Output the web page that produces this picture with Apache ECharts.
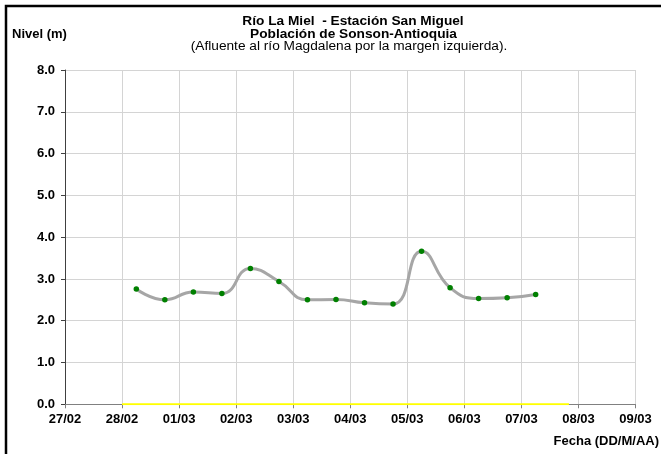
<!DOCTYPE html>
<html>
<head>
<meta charset="utf-8">
<script src="https://cdn.jsdelivr.net/npm/echarts@6/dist/echarts.min.js"></script>
<style>
html,body{margin:0;padding:0;background:#fff;}
#chart{width:661px;height:454px;}
</style>
</head>
<body>
<div id="chart"></div>
<script>
// ---- data ----
var titleLines = ['Río La Miel  - Estación San Miguel', 'Población de Sonson-Antioquia', '(Afluente al río Magdalena por la margen izquierda).'];
var yAxisName = 'Nivel (m)';
var xAxisName = 'Fecha (DD/M/AA)';
var axisStart = '2011-02-27T00:00';
var xTickLabels = ['27/02','28/02','01/03','02/03','03/03','04/03','05/03','06/03','07/03','08/03','09/03'];
var yTickMin = 0, yTickMax = 8, yTickStep = 1;
var dates = ['2011-02-28T06:00','2011-02-28T18:00','2011-03-01T06:00','2011-03-01T18:00','2011-03-02T06:00','2011-03-02T18:00',
             '2011-03-03T06:00','2011-03-03T18:00','2011-03-04T06:00','2011-03-04T18:00','2011-03-05T06:00','2011-03-05T18:00',
             '2011-03-06T06:00','2011-03-06T18:00','2011-03-07T06:00'];
var nivel = [2.76, 2.50, 2.69, 2.65, 3.25, 2.94, 2.50, 2.51, 2.43, 2.40, 3.66, 2.79, 2.53, 2.55, 2.63];
var refDates = ['2011-02-28T00:00', '2011-03-07T20:00'];
var refValues = [0, 0];

// ---- build ----
function dayOffset(s){ return (Date.parse(s + 'Z') - Date.parse(axisStart + 'Z')) / 86400000; }
var lineData = dates.map(function(d,i){ return [dayOffset(d), nivel[i]]; });
var refData = refDates.map(function(d,i){ return [dayOffset(d), refValues[i]]; });
var FONT = 'Liberation Sans';
var FS = 13;

var chart = echarts.init(document.getElementById('chart'), null, {renderer:'canvas'});
chart.setOption({
  backgroundColor: '#ffffff',
  animation: false,
  textStyle: {fontFamily: FONT},
  grid: {left: 65, right: 25.5, top: 70, bottom: 49.7, containLabel: false},
  graphic: [
    {type:'rect', shape:{x:6, y:6, width:700, height:500}, style:{fill:'none', stroke:'#000', lineWidth:2.5}, z:100},
    {type:'text', style:{text:titleLines[0], font:'bold 13.7px "Liberation Sans"', fill:'#000', textAlign:'center', textVerticalAlign:'middle', x:353, y:21}},
    {type:'text', style:{text:titleLines[1], font:'bold 13.7px "Liberation Sans"', fill:'#000', textAlign:'center', textVerticalAlign:'middle', x:353.5, y:34}},
    {type:'text', style:{text:titleLines[2], font:'13.7px "Liberation Sans"', fill:'#000', textAlign:'center', textVerticalAlign:'middle', x:349, y:46}},
    {type:'text', style:{text:yAxisName, font:'bold 13px "Liberation Sans"', fill:'#000', textAlign:'left', textVerticalAlign:'middle', x:12, y:34}},
    {type:'text', style:{text:xAxisName, font:'bold 13px "Liberation Sans"', fill:'#000', textAlign:'right', textVerticalAlign:'middle', x:659, y:441}}
  ],
  xAxis: {
    type: 'value', min: 0, max: xTickLabels.length - 1, interval: 1,
    axisLine: {show: true, lineStyle: {color: '#808080', width: 1}},
    axisTick: {show: true, length: 4, lineStyle: {color: '#808080'}},
    axisLabel: {color:'#000', fontWeight:'bold', fontSize:FS, fontFamily:FONT, margin:9,
      formatter: function(v){ return xTickLabels[Math.round(v)] || ''; }},
    splitLine: {show: true, lineStyle: {color: '#d4d4d4', width: 1}}
  },
  yAxis: {
    type: 'value', min: yTickMin, max: yTickMax, interval: yTickStep,
    axisLine: {show: true, lineStyle: {color: '#404040', width: 1}},
    axisTick: {show: true, length: 4, lineStyle: {color: '#404040'}},
    axisLabel: {color:'#000', fontWeight:'bold', fontSize:FS, fontFamily:FONT, margin:10,
      formatter: function(v){ return v.toFixed(1); }},
    splitLine: {show: true, lineStyle: {color: '#d4d4d4', width: 1}}
  },
  series: [
    {
      type: 'line', data: refData, symbol: 'none', silent: true, z: 3,
      lineStyle: {color: '#ffff00', width: 2}
    },
    {
      type: 'line', data: lineData, smooth: 0.5, symbol: 'circle', symbolSize: 5.5, z: 4,
      lineStyle: {color: '#a6a6a6', width: 3},
      itemStyle: {color: '#008000', borderWidth: 0}
    }
  ]
});
</script>
</body>
</html>
